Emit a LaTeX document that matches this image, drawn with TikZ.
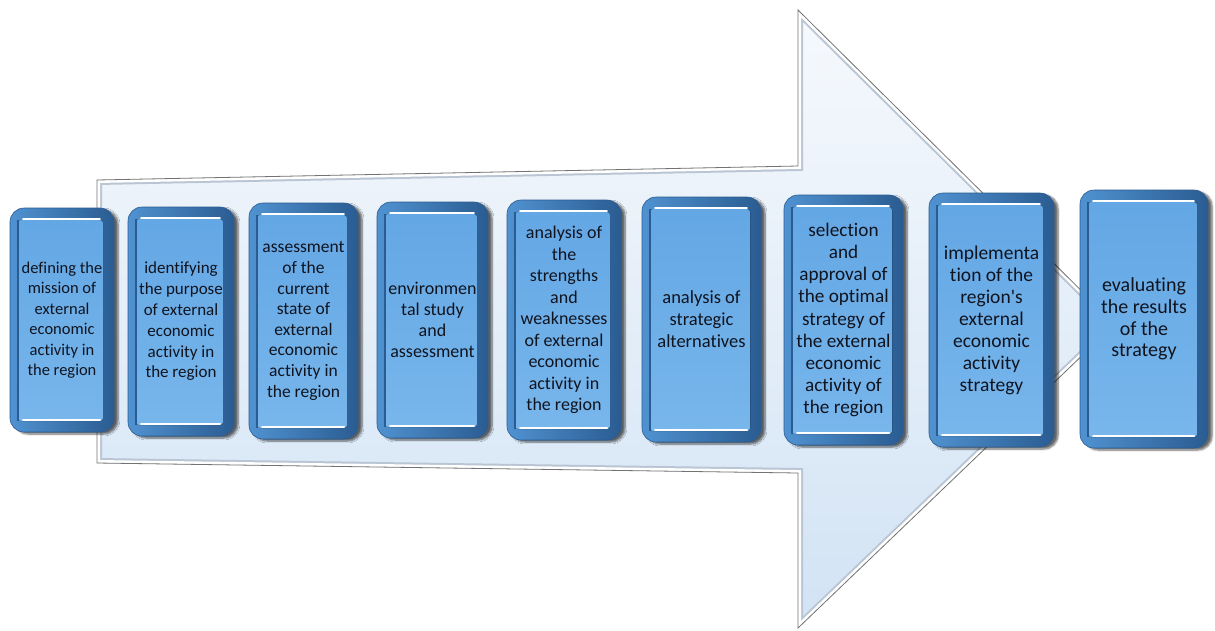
\documentclass[tikz,border=0pt]{standalone}
\usepackage{fontspec}
\setmainfont{Carlito}[Ligatures=NoCommon]
\usetikzlibrary{shadows.blur}

\definecolor{arrowlight}{HTML}{F6F9FD}
\definecolor{arrowblue}{HTML}{D2E3F4}
\definecolor{arrowrim}{HTML}{BAC5D3}
\definecolor{boxbevel}{HTML}{5092D1}
\definecolor{boxdark}{HTML}{2A5C91}
\definecolor{panelhi}{HTML}{62A6E4}
\definecolor{panello}{HTML}{79B7EC}
\definecolor{inkdark}{HTML}{10141F}

% outline of the big arrow
\newcommand\arrowoutline{(97,180) -- (798,166) -- (798,10) -- (1115,324)
  -- (798,628) -- (798,473) -- (97,463) -- cycle}

\begin{document}
\begin{tikzpicture}[x=1pt,y=-1pt,
  stepbox/.style={rounded corners=14pt,inner sep=0pt,align=center,text=inkdark,
    left color=boxbevel,right color=boxdark,draw=boxdark,line width=0.6pt,
    blur shadow={shadow xshift=4pt,shadow yshift=-2pt,shadow blur steps=6,shadow opacity=60},
    path picture={
      \fill[top color=panelhi,bottom color=panello,rounded corners=3pt]
        ([shift={(8pt,-12pt)}]path picture bounding box.north west) rectangle
        ([shift={(-11pt,11pt)}]path picture bounding box.south east);
      \draw[boxdark,line width=1.2pt]
        ([shift={(8pt,-12pt)}]path picture bounding box.north west) --
        ([shift={(8pt,11pt)}]path picture bounding box.south west);
      \draw[white,line width=1.6pt,line cap=round]
        ([shift={(13pt,-11pt)}]path picture bounding box.north west) --
        ([shift={(-14pt,-11pt)}]path picture bounding box.north east);
      \draw[white,line width=2pt,line cap=round]
        ([shift={(13pt,12pt)}]path picture bounding box.south west) --
        ([shift={(-14pt,12pt)}]path picture bounding box.south east);
    }},
  arrowline/.style={line width=0.8pt,draw=black!55,line join=miter}]
\useasboundingbox (0,0) rectangle (1215,630);

% the big arrow behind the steps
\path[top color=arrowlight,bottom color=arrowblue] \arrowoutline;
\begin{scope}
  \clip \arrowoutline;
  \draw[arrowrim,line width=10pt,line join=miter] \arrowoutline;
  \draw[white,line width=6pt,line join=miter] \arrowoutline;
\end{scope}
\draw[arrowline] \arrowoutline;

% the steps
\foreach \nm/\cx/\cy/\w/\h/\fs/\ls/\txt in {
  mission/62/320/104/224/16.5/20.5/{defining the\\mission of\\external\\economic\\activity in\\the region},
  purpose/181/321.5/106/229/17/20.8/{identifying\\the purpose\\of external\\economic\\activity in\\the region},
  current/303.5/321/109/236/17.5/20.6/{assessment\\of the\\current\\state of\\external\\economic\\activity in\\the region},
  environment/432.5/320/111/236/18/21/{environmen\\tal study\\and\\assessment},
  strengths/564/320/114/240/18/21.5/{analysis of\\the\\strengths\\and\\weaknesses\\of external\\economic\\activity in\\the region},
  alternatives/701.5/319.5/119/245/18.5/22/{analysis of\\strategic\\alternatives},
  selection/843.5/320/119/250/19.2/22.2/{selection\\and\\approval of\\the optimal\\strategy of\\the external\\economic\\activity of\\the region},
  implementation/991.5/320/125/254/19.5/22/{implementa\\tion of the\\region\textquotesingle s\\external\\economic\\activity\\strategy},
  evaluation/1144/319/128/258/20/21.7/{evaluating\\the results\\of the\\strategy}}
  \node[stepbox,minimum width=\w pt,minimum height=\h pt,
    font=\fontsize{\fs}{\ls}\selectfont] (\nm) at (\cx,\cy) {\txt};
\end{tikzpicture}
\end{document}
